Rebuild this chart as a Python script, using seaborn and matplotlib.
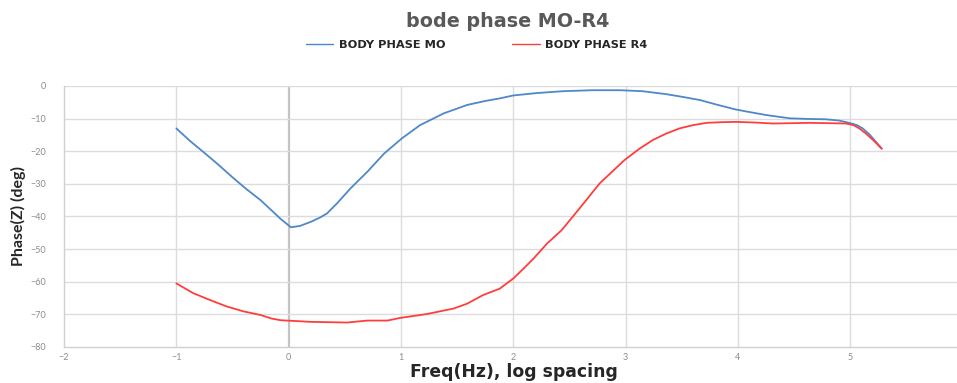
import pandas as pd
import matplotlib.pyplot as plt
import seaborn as sns

# log10(freq) points
freq_mo = [-1.0, -0.88, -0.75, -0.62, -0.5, -0.38, -0.25, -0.15, -0.07, 0.02, 0.1, 0.2, 0.28,
           0.34, 0.43, 0.55, 0.7, 0.85, 1.01, 1.17, 1.38, 1.59, 1.75, 1.88, 2.0, 2.2, 2.44,
           2.7, 2.95, 3.15, 3.36, 3.5, 3.66, 3.82, 3.98, 4.12, 4.25, 4.46, 4.62, 4.78, 4.9,
           4.99, 5.06, 5.11, 5.17, 5.22, 5.28]
phase_mo = [-13.0, -16.8, -20.5, -24.3, -28.0, -31.5, -35.0, -38.2, -40.8, -43.3, -42.9,
            -41.6, -40.3, -39.1, -36.0, -31.4, -26.3, -20.7, -16.0, -12.0, -8.4, -5.8, -4.6,
            -3.8, -2.9, -2.2, -1.6, -1.3, -1.3, -1.6, -2.5, -3.3, -4.3, -5.8, -7.2, -8.1,
            -8.9, -9.9, -10.1, -10.2, -10.6, -11.3, -12.0, -13.0, -14.8, -16.8, -19.2]

freq_r4 = [-1.0, -0.85, -0.7, -0.55, -0.4, -0.25, -0.15, -0.07, 0.2, 0.52, 0.7, 0.88, 0.99,
           1.23, 1.47, 1.59, 1.73, 1.88, 2.0, 2.09, 2.18, 2.3, 2.43, 2.59, 2.77, 2.99, 3.12,
           3.24, 3.36, 3.48, 3.6, 3.72, 3.85, 3.98, 4.15, 4.31, 4.64, 4.96, 5.03, 5.08, 5.14,
           5.21, 5.28]
phase_r4 = [-60.5, -63.5, -65.6, -67.6, -69.1, -70.2, -71.3, -71.8, -72.3, -72.5, -71.9,
            -71.9, -71.1, -69.9, -68.2, -66.7, -64.1, -62.1, -59.0, -56.0, -52.9, -48.3,
            -44.2, -37.5, -29.8, -22.7, -19.3, -16.6, -14.6, -13.0, -12.0, -11.3, -11.1,
            -11.0, -11.2, -11.5, -11.3, -11.5, -12.0, -13.0, -14.6, -16.8, -19.2]

labels = ['BODY PHASE MO', 'BODY PHASE R4']
colors = ['#4F88C8', '#FF3D3D']

df = pd.concat([
    pd.DataFrame({'freq': freq_mo, 'phase': phase_mo, 'series': labels[0]}),
    pd.DataFrame({'freq': freq_r4, 'phase': phase_r4, 'series': labels[1]}),
])

sns.set_style('white')
plt.rcParams['font.family'] = ['Lato', 'DejaVu Sans']
wide = ['DejaVu Sans']

fig = plt.figure(figsize=(9.57, 3.83), dpi=100)
ax = fig.add_axes([0.0669, 0.094, 0.9331, 0.6815])

for x in range(-1, 6):
    ax.axvline(x, color='#C4C4C4' if x == 0 else '#DCDCDC', lw=1.6 if x == 0 else 1.0, zorder=0)
for y in range(-70, 1, 10):
    ax.axhline(y, color='#DCDCDC', lw=1.0, zorder=0)

sns.lineplot(data=df, x='freq', y='phase', hue='series', palette=colors,
             sort=False, lw=1.3, ax=ax, legend=False)

ax.set_xlim(-2, 5.95)
ax.set_ylim(-80, 0)
ax.set_xticks(range(-2, 6))
ax.set_yticks(range(-80, 1, 10))
ax.tick_params(axis='y', labelsize=6.5, colors='#8C8C8C', length=0, pad=13)
ax.tick_params(axis='x', labelsize=6.5, colors='#8C8C8C', length=0, pad=4)
for s in ['top', 'right']:
    ax.spines[s].set_visible(False)
for s in ['left', 'bottom']:
    ax.spines[s].set_color('#D0D0D0')
    ax.spines[s].set_linewidth(1.0)
ax.set_xlabel('')
ax.set_ylabel('')

fig.text(0.5366, 0.016, 'Freq(Hz), log spacing', ha='center', va='baseline',
         fontsize=12.4, fontweight='bold', family=wide)
fig.text(0.019, 0.436, 'Phase(Z) (deg)', ha='center', va='center', rotation=90,
         fontsize=11.5, fontweight='bold')

fig.text(0.53, 0.945, 'bode phase MO-R4', ha='center', va='center',
         fontsize=13.8, fontweight='bold', color='#595959', family=wide)

handles = [plt.Line2D([], [], color=c, lw=1.0) for c in colors]
fig.legend(handles, labels, loc='center', bbox_to_anchor=(0.498, 0.883), ncol=2,
           frameon=False, prop={'size': 8.2, 'weight': 'bold', 'family': wide},
           columnspacing=5.9, handlelength=2.45, handletextpad=0.45)

fig.savefig('out.png', dpi=100)
